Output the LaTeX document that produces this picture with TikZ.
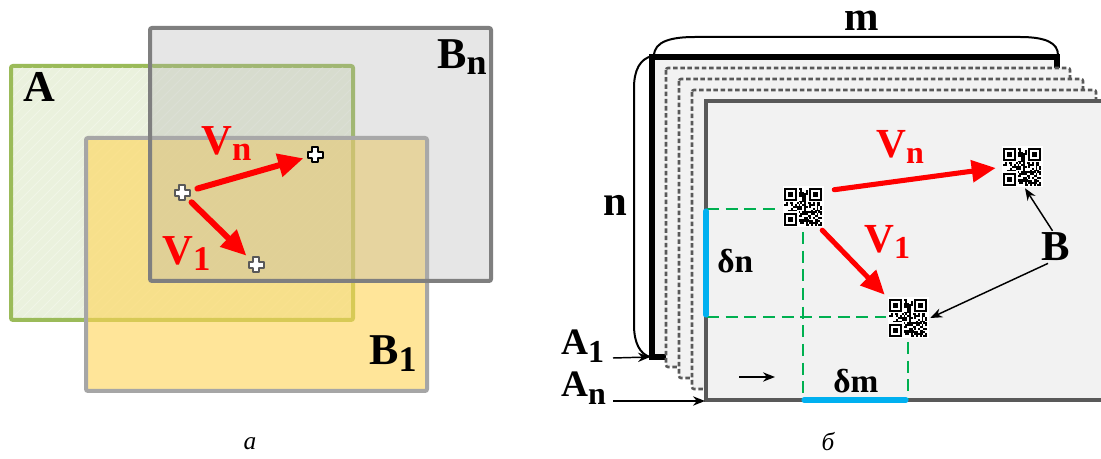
\documentclass[tikz,border=0pt]{standalone}
\usepackage{fontspec}
\setmainfont{Liberation Serif}
\usetikzlibrary{arrows.meta,calc}
\definecolor{agreen}{HTML}{9BBB59}
\definecolor{afill}{HTML}{EAF1DD}
\definecolor{bnline}{HTML}{7F7F7F}
\definecolor{bnfill}{RGB}{175,175,175}
\definecolor{bline}{HTML}{A6A6A6}
\definecolor{bfill}{RGB}{255,213,85}
\definecolor{layfill}{HTML}{F2F2F2}
\definecolor{dgray}{HTML}{595959}
\definecolor{qgreen}{HTML}{00B050}
\definecolor{qblue}{HTML}{00B0F0}
\newcommand{\SL}[5]{{\fontsize{#1}{#1}\selectfont\bfseries #3\raisebox{-#5}{\fontsize{#2}{#2}\selectfont #4}}}
\tikzset{
  lab/.style={inner sep=0pt, anchor=base west},
  redarr/.style={draw=red, line width=4.5pt, line cap=round, -{Triangle[length=19pt,width=17pt]}},
  redarrR/.style={draw=red, line width=3.8pt, line cap=round, -{Triangle[length=18pt,width=16pt]}},
  thinarr/.style={draw=black, line width=1.1pt, -{Stealth[length=9pt,width=7pt]}},
  brace/.style={draw=black, line width=1.5pt},
  layer/.style={draw=dgray, line width=1.9pt, fill=layfill, dash pattern=on 3.4pt off 2pt, rounded corners=1.5pt},
  gdash/.style={draw=qgreen, line width=1.3pt, dash pattern=on 9pt off 5pt},
  bline/.style={draw=qblue, line width=3.8pt, line cap=round},
  qrnode/.style={minimum size=28.5pt, inner sep=0pt},
  ptnode/.style={inner sep=0pt, minimum size=11pt},
  crosspic/.pic={
    \filldraw[fill=white, draw=#1, line width=1.5pt, line join=round]
      (-2.6,-7.5) -- (2.6,-7.5) -- (2.6,-2.6) -- (7.5,-2.6) -- (7.5,2.6) -- (2.6,2.6)
      -- (2.6,7.5) -- (-2.6,7.5) -- (-2.6,2.6) -- (-7.5,2.6) -- (-7.5,-2.6) -- (-2.6,-2.6) -- cycle;
  },
  qrpic/.pic={
    \pgfmathsetseed{4242}
    \fill[white] (-20.5,-20.5) rectangle (20.5,20.5);
    \foreach \fx/\fy in {0/0,14/0,0/14}{
      \fill[black] ({-18.9+\fx*1.8},{-18.9+\fy*1.8}) rectangle ++(12.6,12.6);
      \fill[white] ({-18.9+(\fx+1)*1.8},{-18.9+(\fy+1)*1.8}) rectangle ++(9,9);
      \fill[black] ({-18.9+(\fx+2)*1.8},{-18.9+(\fy+2)*1.8}) rectangle ++(5.4,5.4);
    }
    \foreach \i in {0,...,20}{\foreach \j in {0,...,20}{
      \pgfmathtruncatemacro\qrskip{((\i<8)&&(\j<8))||((\i>12)&&(\j<8))||((\i<8)&&(\j>12))}
      \ifnum\qrskip=0
        \pgfmathtruncatemacro\qrbit{rnd>0.42}
        \ifnum\qrbit=1 \fill[black] ({-18.9+\i*1.8},{-18.9+\j*1.8}) rectangle ++(1.8,1.8);\fi
      \fi
    }}
  }
}
\begin{document}
\begin{tikzpicture}[x=0.75pt,y=-0.75pt]
\clip (0,0) rectangle (1101,459);
\fill[white] (0,0) rectangle (1101,459);

% ---------------- left panel ----------------
\filldraw[draw=agreen, fill=afill, line width=3pt, rounded corners=1.5pt] (11,66) rectangle (353,320);
\begin{scope}
  \clip (13,68) rectangle (351,318);
  \foreach \k in {-240,-230,...,350}{
    \draw[white, opacity=0.3, line width=0.6pt] (\k,320) -- ++(254,-254);
  }
\end{scope}
\filldraw[draw=bline, fill=bfill, fill opacity=0.6, line width=3pt, rounded corners=1.5pt] (86,138) rectangle (427,391);
\filldraw[draw=bnline, fill=bnfill, fill opacity=0.31, line width=3pt, rounded corners=1.5pt] (150,28) rectangle (491,281);

\node[lab] (la) at (23,102) {\SL{33pt}{27pt}{A}{}{0pt}};
\node[lab] (lbn) at (437,69) {\SL{33pt}{27pt}{B}{n}{4pt}};
\node[lab] (lb1) at (369,365) {\SL{33pt}{27pt}{B}{1}{5pt}};

\node[ptnode] (p0) at (182,193) {};
\node[ptnode] (pn) at (315,155) {};
\node[ptnode] (p1) at (256,265) {};
\draw[redarr, shorten <=12pt, shorten >=9pt] (p0.center) -- (pn.center);
\draw[redarr, shorten <=10pt, shorten >=10pt] (p0.center) -- (p1.center);
\pic at (p0) {crosspic={dgray}};
\pic at (pn) {crosspic={black}};
\pic at (p1) {crosspic={dgray}};

\node[lab, text=red] (lvn) at (201,155) {\SL{32pt}{26pt}{V}{n}{4pt}};
\node[lab, text=red] (lv1) at (162,265) {\SL{32pt}{26pt}{V}{1}{4.5pt}};

% ---------------- right panel ----------------
\filldraw[draw=black, line width=3.8pt, fill=layfill] (652,57) rectangle (1057,357);
\filldraw[layer] (666,68) rectangle (1070,367);
\filldraw[layer] (679,79) rectangle (1083,378);
\filldraw[layer] (692,90) rectangle (1096,389);
\filldraw[draw=dgray, line width=2.8pt, fill=layfill] (706,101) rectangle (1115,400);

\coordinate (c1) at (650,357);
\coordinate (c5) at (705,401);

% braces
\draw[brace] (654,56) .. controls (654,41) and (672,37) .. (695,37) -- (1020,37) .. controls (1046,37) and (1058,43) .. (1058,55);
\draw[brace] (652,56) .. controls (640,59) and (634,70) .. (634,88) -- (634,325) .. controls (634,343) and (640,354) .. (650,357);

\node[lab, anchor=base] (lm) at (862,31) {\fontsize{31pt}{31pt}\selectfont\bfseries m};
\node[lab, anchor=base] (ln) at (615,216) {\fontsize{32pt}{32pt}\selectfont\bfseries n};

% QR nodes
\node[qrnode] (q1) at (803,207) {};
\node[qrnode] (q2) at (908,318) {};
\node[qrnode] (q3) at (1022,167) {};

% green dashed guides
\coordinate (g1) at (707,209);
\coordinate (g2) at (778,209);
\coordinate (g3) at (803,232);
\coordinate (g4) at (803,399);
\coordinate (g5) at (707,317);
\coordinate (g6) at (886,317);
\coordinate (g7) at (908,342);
\coordinate (g8) at (908,399);
\draw[gdash] (g1) -- (g2);
\draw[gdash] (g3) -- (g4);
\draw[gdash] (g5) -- (g6);
\draw[gdash] (g7) -- (g8);

% blue extents
\coordinate (bn1) at (706,211);
\coordinate (bn2) at (706,315);
\coordinate (bm1) at (804,400);
\coordinate (bm2) at (906,400);
\draw[bline] (bn1) -- (bn2);
\draw[bline] (bm1) -- (bm2);

\pic at (q1) {qrpic};
\pic at (q2) {qrpic};
\pic at (q3) {qrpic};

% red displacement arrows
\draw[redarrR] ($(q1.north east)+(12,2)$) -- ($(q3.west)+(-7,1)$);
\draw[redarrR] ($(q1.south east)+(0,4)$) -- ($(q2.north west)+(-4,-4)$);

\node[lab, text=red] (rvn) at (876,158) {\SL{31pt}{24pt}{V}{n}{4.5pt}};
\node[lab, text=red] (rv1) at (864,253) {\SL{31pt}{24pt}{V}{1}{4pt}};

\node[lab] (lbb) at (1041,261) {\fontsize{32pt}{32pt}\selectfont\bfseries B};
\draw[thinarr] ($(lbb.north)+(-3,-2)$) -- ($(q3.south)+(3,2)$);
\draw[thinarr] ($(lbb.south west)+(7,2)$) -- ($(q2.east)+(3,0)$);

\node[lab] (ldn) at (717,273) {\fontsize{25pt}{25pt}\selectfont\bfseries δn};
\node[lab] (ldm) at (833,393) {\fontsize{25pt}{25pt}\selectfont\bfseries δm};

\node[lab] (la1) at (561,355) {\SL{28pt}{24pt}{A}{1}{6pt}};
\node[lab] (lan) at (561,397) {\SL{28pt}{24pt}{A}{n}{6pt}};
\draw[thinarr] (613,358) -- (c1);
\draw[thinarr] (613,401) -- (c5);

\coordinate (sa) at (739,377);
\coordinate (sb) at (775,377);
\draw[thinarr] (sa) -- (sb);

% captions
\node (capa) at (250,444) {\fontsize{19pt}{19pt}\selectfont\itshape а};
\node (capb) at (828,442) {\fontsize{19pt}{19pt}\selectfont\itshape б};
\end{tikzpicture}
\end{document}
